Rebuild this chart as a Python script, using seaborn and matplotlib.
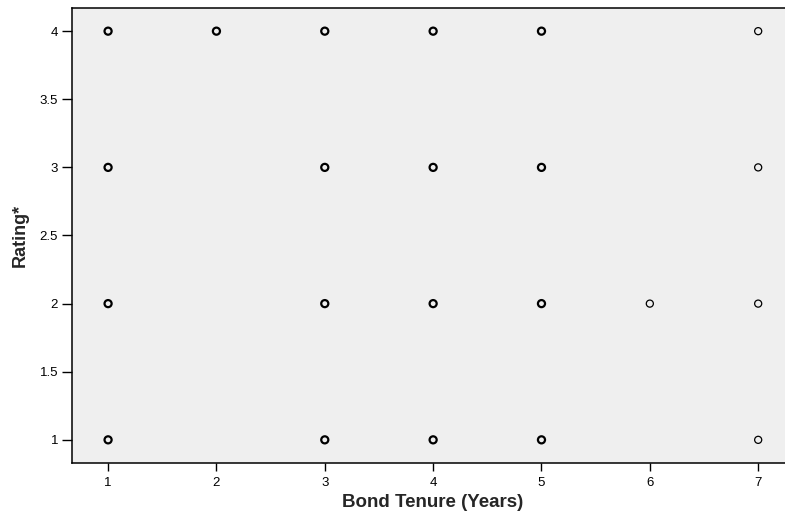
import matplotlib
matplotlib.use("Agg")
import matplotlib.pyplot as plt
import seaborn as sns
import pandas as pd

# Observations: bond tenure (years) and rating for each respondent
tenure = [1, 1, 1, 1, 1, 1, 1, 1,
          2, 2,
          3, 3, 3, 3, 3, 3, 3, 3, 3, 3, 3,
          4, 4, 4, 4, 4, 4, 4, 4,
          5, 5, 5, 5, 5, 5, 5, 5, 5, 5, 5,
          6,
          7, 7, 7, 7]
rating = [4, 4, 3, 3, 2, 2, 1, 1,
          4, 4,
          4, 4, 4, 3, 3, 3, 2, 2, 2, 1, 1,
          4, 4, 3, 3, 2, 2, 1, 1,
          4, 4, 4, 3, 3, 3, 2, 2, 2, 1, 1,
          2,
          4, 3, 2, 1]

x_ticks = [1, 2, 3, 4, 5, 6, 7]
y_ticks = [1, 1.5, 2, 2.5, 3, 3.5, 4]
y_tick_labels = ["1", "1.5", "2", "2.5", "3", "3.5", "4"]

df = pd.DataFrame({"tenure": tenure, "rating": rating})
# coincident observations are drawn with a heavier outline
pts = df.groupby(["tenure", "rating"]).size().reset_index(name="n")

sns.set_style("white")
plt.rcParams["font.family"] = ["Liberation Sans", "DejaVu Sans"]

fig = plt.figure(figsize=(7.85, 5.18), dpi=100)
ax = fig.add_axes([72 / 785, 1 - 463 / 518, 1 - 72 / 785 + 0.01, (463 - 8) / 518])
ax.set_facecolor("#efefef")

for heavy, grp in pts.groupby(pts["n"] > 1):
    sns.scatterplot(data=grp, x="tenure", y="rating", ax=ax,
                    marker="o", s=26, facecolor="none",
                    edgecolor="black", linewidth=1.6 if heavy else 0.9,
                    legend=False, zorder=3)

ax.set_xlim(0.667, 7.32)
ax.set_ylim(0.83, 4.17)
ax.set_xticks(x_ticks)
ax.set_xticklabels([str(t) for t in x_ticks])
ax.set_yticks(y_ticks)
ax.set_yticklabels(y_tick_labels)

for side in ["left", "bottom", "top"]:
    ax.spines[side].set_visible(True)
    ax.spines[side].set_color("black")
    ax.spines[side].set_linewidth(1.1)
ax.spines["right"].set_visible(False)

ax.tick_params(axis="both", which="major", direction="out", width=1,
               color="black", labelsize=9.5, labelcolor="black", pad=3,
               bottom=True, left=True, top=False, right=False)
ax.tick_params(axis="y", length=7)
ax.tick_params(axis="x", length=6, pad=4)

ax.set_xlabel("Bond Tenure (Years)", fontsize=13.5, fontweight="bold", labelpad=4)
ax.set_ylabel("Rating*", fontsize=13, fontweight="bold", labelpad=8)

fig.savefig("out.png", dpi=100)
